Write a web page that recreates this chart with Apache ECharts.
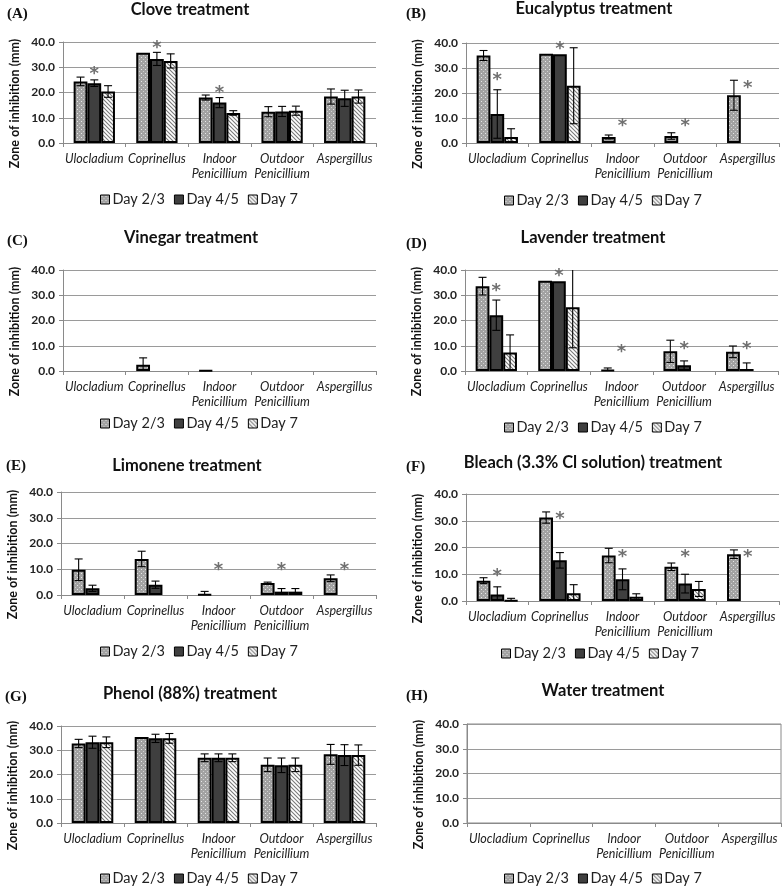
<!DOCTYPE html>
<html><head><meta charset="utf-8">
<script src="https://cdn.jsdelivr.net/npm/echarts@6/dist/echarts.min.js"></script>
<style>html,body{margin:0;padding:0;background:#fff}#c{width:782px;height:887px}</style>
</head><body><div id="c"></div>
<script>
// ---------------- DATA ----------------
const categories = ['Ulocladium', 'Coprinellus', 'Indoor\nPenicillium', 'Outdoor\nPenicillium', 'Aspergillus'];
const dayNames = ['Day 2/3', 'Day 4/5', 'Day 7'];
const yMin = 0, yMax = 40, yStep = 10;

// means: rows = Day 2/3, Day 4/5, Day 7 ; cols = categories
const cloveMean = [[24.4, 35.7, 18.0, 12.4, 18.4], [23.7, 33.3, 16.0, 12.5, 17.7], [20.4, 32.5, 11.9, 12.8, 18.4]];
const cloveErr  = [[1.7, 0, 1.0, 2.0, 3.0], [1.3, 2.6, 2.0, 2.0, 3.2], [2.3, 2.8, 0.9, 1.8, 2.6]];
const cloveStar = [[0, 28.7], [1, 39.0], [2, 21.3]];

const eucaMean = [[35.0, 35.7, 2.4, 2.8, 19.1], [11.6, 35.5, null, null, null], [2.4, 22.9, null, null, null]];
const eucaErr  = [[2.0, 0, 0.8, 1.3, 6.0], [9.7, 0, 0, 0, 0], [3.3, 15.2, 0, 0, 0]];
const eucaStar = [[0, 26.7], [1, 39.0], [2, 8.4], [3, 8.4], [4, 23.3]];

const vinegarMean = [[null, 2.5, 0.2, null, null], [null, null, null, null, null], [null, null, null, null, null]];
const vinegarErr  = [[0, 2.7, 0, 0, 0], [0, 0, 0, 0, 0], [0, 0, 0, 0, 0]];
const vinegarStar = [];

const lavMean = [[33.6, 35.7, 0.3, 7.8, 7.6], [22.1, 35.5, null, 2.3, 0.8], [7.3, 25.2, null, null, null]];
const lavErr  = [[3.5, 0, 0.9, 4.4, 2.3], [6.0, 0, 0, 1.7, 2.4], [7.0, 16.0, 0, 0, 0]];
const lavStar = [[0, 33.0], [1, 39.2], [2, 9.1], [3, 10.2], [4, 10.2]];

const limMean = [[9.8, 14.0, 0.2, 4.7, 6.5], [2.6, 4.0, null, 1.3, null], [null, null, null, 1.3, null]];
const limErr  = [[4.2, 3.0, 1.2, 0.3, 1.3], [1.2, 1.4, 0, 1.2, 0], [0, 0, 0, 1.2, 0]];
const limStar = [[2, 11.1], [3, 11.1], [4, 11.1]];

const bleachMean = [[7.6, 31.2, 17.0, 12.8, 17.5], [2.4, 15.2, 8.1, 6.5, null], [0.2, 2.9, 1.6, 4.5, null]];
const bleachErr  = [[1.1, 2.1, 2.7, 1.4, 1.6], [2.9, 2.9, 3.9, 3.5, 0], [0.8, 3.2, 1.1, 2.8, 0]];
const bleachStar = [[0, 10.6], [1, 32.1], [2, 17.8], [3, 17.8], [4, 17.8]];

const phenolMean = [[32.8, 35.5, 26.9, 24.0, 28.3], [33.3, 34.9, 26.9, 23.8, 28.0], [33.3, 34.9, 26.9, 24.0, 28.0]];
const phenolErr  = [[1.7, 0, 1.6, 2.8, 4.1], [2.5, 1.7, 1.6, 3.0, 4.3], [2.2, 2.0, 1.6, 2.8, 4.2]];
const phenolStar = [];

const waterMean = [[null, null, null, null, null], [null, null, null, null, null], [null, null, null, null, null]];
const waterErr  = [[0, 0, 0, 0, 0], [0, 0, 0, 0, 0], [0, 0, 0, 0, 0]];
const waterStar = [];

const panelTitles = ['Clove treatment', 'Eucalyptus treatment', 'Vinegar treatment', 'Lavender treatment',
  'Limonene treatment', 'Bleach (3.3% Cl solution) treatment', 'Phenol (88%) treatment', 'Water treatment'];
const panelLabels = ['(A)', '(B)', '(C)', '(D)', '(E)', '(F)', '(G)', '(H)'];
const panelMeans = [cloveMean, eucaMean, vinegarMean, lavMean, limMean, bleachMean, phenolMean, waterMean];
const panelErrs = [cloveErr, eucaErr, vinegarErr, lavErr, limErr, bleachErr, phenolErr, waterErr];
const panelStars = [cloveStar, eucaStar, vinegarStar, lavStar, limStar, bleachStar, phenolStar, waterStar];
const yAxisName = 'Zone of inhibition (mm)';

// ---------------- LAYOUT ----------------
const layout = [
  { g: [63, 42, 313, 101], t: [190, 10], l: [7, 14], lg: [100, 192] },
  { g: [466, 43, 313, 100], t: [594, 9], l: [406, 14], lg: [504, 193] },
  { g: [63, 270, 313, 101], t: [191, 238], l: [7, 241], lg: [100, 416] },
  { g: [465, 270, 313, 101], t: [593, 238], l: [406, 244], lg: [504, 420] },
  { g: [61, 492, 315, 103], t: [187, 466], l: [6, 466], lg: [100, 644] },
  { g: [466, 494, 313, 107], t: [593, 463], l: [406, 467], lg: [501, 646] },
  { g: [61, 726, 315, 97], t: [190, 694], l: [5, 697], lg: [100, 871] },
  { g: [467, 724, 314, 99], t: [603, 691], l: [406, 696], lg: [504, 871] }
];
const BAR_FRAC = 0.22;
const FONT = 'Lato, "Open Sans", sans-serif';

function dotPattern() {
  const c = document.createElement('canvas'); c.width = 4; c.height = 4;
  const g = c.getContext('2d');
  g.fillStyle = '#a2a2a2'; g.fillRect(0, 0, 4, 4);
  g.fillStyle = '#e8e8e8'; g.fillRect(1, 1, 1, 1);
  g.fillStyle = '#cfcfcf'; g.fillRect(3, 3, 1, 1);
  return c;
}
function hatchPattern() {
  const s = 4;
  const c = document.createElement('canvas'); c.width = s; c.height = s;
  const g = c.getContext('2d');
  g.fillStyle = '#ffffff'; g.fillRect(0, 0, s, s);
  g.strokeStyle = '#7a7a7a'; g.lineWidth = 1.1;
  g.beginPath();
  g.moveTo(-1, -1); g.lineTo(s + 1, s + 1);
  g.moveTo(-1, s - 1); g.lineTo(1, s + 1);
  g.moveTo(s - 1, -1); g.lineTo(s + 1, 1);
  g.stroke();
  return c;
}
const fills = [
  { image: dotPattern(), repeat: 'repeat' },
  '#3f3f3f',
  { image: hatchPattern(), repeat: 'repeat' }
];

function renderErr(params, api) {
  const cat = api.value(0), day = api.value(1), m = api.value(2), e = api.value(3);
  const band = api.size([1, 0])[0];
  const bw = band * BAR_FRAC;
  const cx = api.coord([cat, m])[0] + (day - 1) * bw;
  const yT = api.coord([cat, m + e])[1];
  const low = m - e;
  const yB = api.coord([cat, Math.max(low, 0)])[1];
  const cap = 4;
  const st = { stroke: '#000', lineWidth: 1.1 };
  const ch = [
    { type: 'line', shape: { x1: cx, y1: yT, x2: cx, y2: yB }, style: st },
    { type: 'line', shape: { x1: cx - cap, y1: yT, x2: cx + cap, y2: yT }, style: st }
  ];
  if (low >= 0) ch.push({ type: 'line', shape: { x1: cx - cap, y1: yB, x2: cx + cap, y2: yB }, style: st });
  return { type: 'group', children: ch };
}
function renderStar(params, api) {
  const p = api.coord([api.value(0), api.value(1)]);
  return {
    type: 'text', x: p[0], y: p[1] + 4,
    style: { text: '*', fill: '#707070', font: 'bold 18px "DejaVu Sans", sans-serif', align: 'center', verticalAlign: 'middle', textAlign: 'center', textVerticalAlign: 'middle' }
  };
}

const grid = [], xAxis = [], yAxis = [], series = [], legend = [], graphic = [];
layout.forEach((L, i) => {
  grid.push({ left: L.g[0], top: L.g[1], width: L.g[2], height: L.g[3], show: i === 7, borderColor: '#8a8a8a', borderWidth: 1, backgroundColor: 'transparent' });
  xAxis.push({
    type: 'category', gridIndex: i, data: categories,
    axisLine: { show: true, lineStyle: { color: '#8a8a8a', width: 1 } },
    axisTick: { show: true, length: 4, lineStyle: { color: '#8a8a8a' } },
    axisLabel: { interval: 0, margin: 8, fontFamily: FONT, fontStyle: 'italic', fontSize: 12.5, color: '#222', lineHeight: 15 }
  });
  yAxis.push({
    type: 'value', gridIndex: i, min: yMin, max: yMax, interval: yStep,
    axisLine: { show: true, lineStyle: { color: '#8a8a8a', width: 1 } },
    axisTick: { show: true, length: 4, lineStyle: { color: '#8a8a8a' } },
    splitLine: { show: true, lineStyle: { color: '#9a9a9a', width: 1 } },
    axisLabel: { margin: 8, fontFamily: FONT, fontWeight: 'bold', fontSize: 12, color: '#222', formatter: v => v.toFixed(1) }
  });
  const mean = panelMeans[i], err = panelErrs[i];
  dayNames.forEach((dn, d) => {
    series.push({
      type: 'bar', name: dn, xAxisIndex: i, yAxisIndex: i, data: mean[d],
      barWidth: (BAR_FRAC * 100) + '%', barGap: '0%',
      itemStyle: { color: fills[d], borderColor: '#000', borderWidth: 2 },
      emphasis: { disabled: true }, silent: true
    });
  });
  const errData = [];
  for (let d = 0; d < 3; d++) for (let c = 0; c < categories.length; c++) {
    if (mean[d][c] != null && err[d][c] > 0) errData.push([c, d, mean[d][c], err[d][c]]);
  }
  series.push({
    type: 'custom', name: 'err' + i, xAxisIndex: i, yAxisIndex: i, data: errData,
    encode: { x: 0, y: 2 }, renderItem: renderErr, clip: true, z: 5, silent: true
  });
  series.push({
    type: 'custom', name: 'star' + i, xAxisIndex: i, yAxisIndex: i, data: panelStars[i],
    encode: { x: 0, y: 1 }, renderItem: renderStar, clip: false, z: 6, silent: true
  });
  legend.push({
    data: dayNames, left: L.lg[0], top: L.lg[1], padding: 0, itemWidth: 9, itemHeight: 9, itemGap: 9,
    icon: 'rect', selectedMode: false,
    itemStyle: { borderColor: '#000', borderWidth: 1 },
    textStyle: { fontFamily: FONT, fontSize: 14.5, color: '#222', padding: [0, 0, 0, -2] }
  });
  graphic.push({
    type: 'text', x: L.t[0], y: L.t[1],
    style: { text: panelTitles[i], font: 'bold 16.5px ' + FONT, fill: '#111', align: 'center', verticalAlign: 'middle', textAlign: 'center', textVerticalAlign: 'middle' }
  });
  graphic.push({
    type: 'text', x: L.l[0], y: L.l[1],
    style: { text: panelLabels[i], font: 'bold 15px "Liberation Serif", "DejaVu Serif", serif', fill: '#111', align: 'left', verticalAlign: 'middle', textAlign: 'left', textVerticalAlign: 'middle' }
  });
  graphic.push({
    type: 'text', x: L.g[0] - 48, y: L.g[1] + L.g[3] / 2 + 11, rotation: Math.PI / 2,
    style: { text: yAxisName, font: 'bold 12.5px ' + FONT, fill: '#111', align: 'center', verticalAlign: 'middle', textAlign: 'center', textVerticalAlign: 'middle' }
  });
});

const chart = echarts.init(document.getElementById('c'), null, { renderer: 'canvas' });
chart.setOption({ animation: false, backgroundColor: '#fff', grid, xAxis, yAxis, series, legend, graphic });
</script>
</body></html>
